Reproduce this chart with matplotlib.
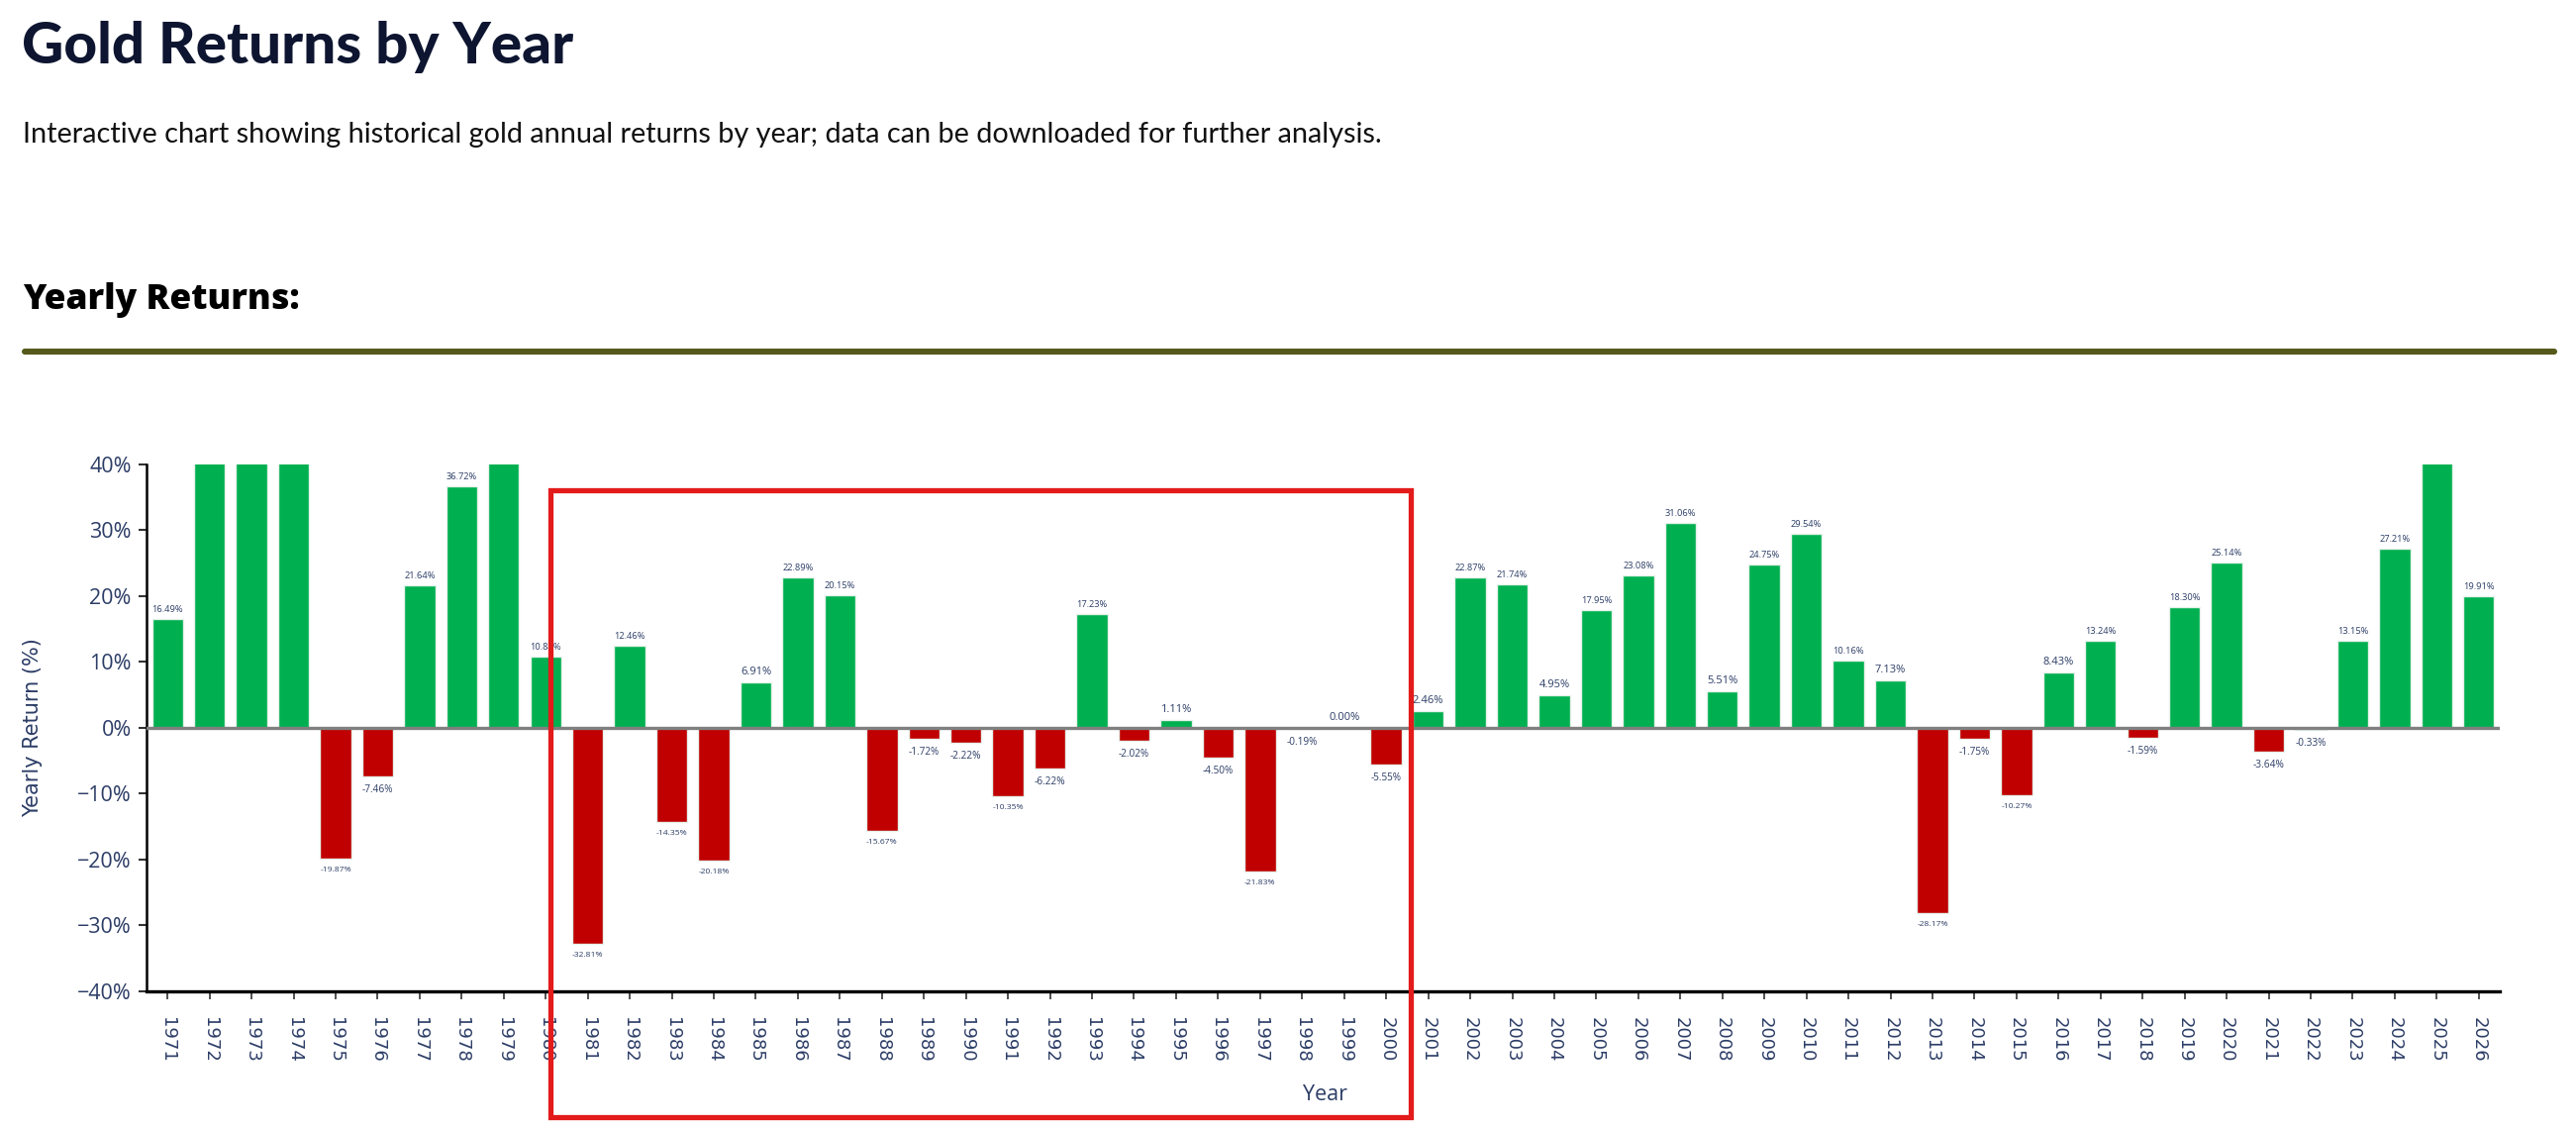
import matplotlib
matplotlib.use("Agg")
import matplotlib.pyplot as plt
from matplotlib.patches import Rectangle
from matplotlib.lines import Line2D
from matplotlib.ticker import FuncFormatter

# ---------------- data ----------------
years = list(range(1971, 2027))
returns = [
    16.49, 48.80, 72.60, 66.00, -19.87, -7.46, 21.64, 36.72, 126.50, 10.84,
    -32.81, 12.46, -14.35, -20.18, 6.91, 22.89, 20.15, -15.67, -1.72, -2.22,
    -10.35, -6.22, 17.23, -2.02, 1.11, -4.50, -21.83, -0.19, 0.00, -5.55,
    2.46, 22.87, 21.74, 4.95, 17.95, 23.08, 31.06, 5.51, 24.75, 29.54,
    10.16, 7.13, -28.17, -1.75, -10.27, 8.43, 13.24, -1.59, 18.30, 25.14,
    -3.64, -0.33, 13.15, 27.21, 64.00, 19.91,
]
y_ticks = [-40, -30, -20, -10, 0, 10, 20, 30, 40]

title = "Gold Returns by Year"
subtitle = ("Interactive chart showing historical gold annual returns by year; "
            "data can be downloaded for further analysis.")
section = "Yearly Returns:"

# ---------------- styling ----------------
W, H = 2602, 1141
DPI = 100
GREEN = "#00b050"
RED = "#c00000"
NAVY = "#2c3d66"
TXT_FONT = ["Open Sans", "DejaVu Sans"]

fig = plt.figure(figsize=(W / DPI, H / DPI), dpi=DPI)
fig.patch.set_facecolor("white")

def fy(px):
    return 1 - px / H

def fx(px):
    return px / W

# header texts
fig.text(fx(22), fy(64), title, fontsize=42, fontweight="black", color="#0d1530",
         family=["Lato", "DejaVu Sans"], va="baseline", ha="left")
fig.text(fx(23), fy(144), subtitle, fontsize=20.8, color="#111111",
         family=["Lato", "DejaVu Sans"], va="baseline", ha="left")
fig.text(fx(23), fy(312), section, fontsize=25.5, fontweight="extra bold", color="#000000",
         family=["Open Sans", "DejaVu Sans"], va="baseline", ha="left")
fig.add_artist(Line2D([fx(25), fx(2580)], [fy(355), fy(355)], transform=fig.transFigure,
                      color="#555a1b", linewidth=4.4, solid_capstyle="round"))

# axes
left, right = 148, 2525
top, bottom = 469, 1000.6
ax = fig.add_axes([fx(left), fy(bottom), fx(right - left), (bottom - top) / H])
ax.set_facecolor("white")

x = list(range(len(years)))
colors = [GREEN if v >= 0 else RED for v in returns]
ax.bar(x, returns, width=0.74, color=colors, edgecolor="#e6f2ea",
       linewidth=1.0, zorder=2)
ax.set_xlim(-0.5, len(years) - 0.5)
ax.set_ylim(-40, 40)

ax.axhline(0, color="#808080", linewidth=2.4, zorder=3)

for s in ["top", "right"]:
    ax.spines[s].set_visible(False)
ax.spines["left"].set_linewidth(1.8)
ax.spines["bottom"].set_linewidth(2.4)
ax.spines["left"].set_color("#000000")
ax.spines["bottom"].set_color("#000000")

ax.set_yticks(y_ticks)
ax.yaxis.set_major_formatter(FuncFormatter(lambda v, p: f"{int(v)}%".replace("-", "\u2212")))
ax.tick_params(axis="y", length=6, width=1.5, color="#333333", labelsize=15.5,
               labelcolor=NAVY, pad=5)
for lab in ax.get_yticklabels():
    lab.set_family(TXT_FONT)

ax.set_xticks(x)
ax.set_xticklabels([str(y) for y in years], rotation=-90, fontsize=13,
                   family=["DejaVu Sans"], color=NAVY)
ax.tick_params(axis="x", length=6, width=1.2, color="#333333", pad=13)

ax.set_ylabel("Yearly Return (%)", fontsize=15, color=NAVY,
              family=["DejaVu Sans"], labelpad=0)
ax.yaxis.set_label_coords(-(left - 43) / (right - left), 0.5)
fig.text(fx(1339), fy(1111), "Year", fontsize=15.5, color=NAVY,
         family=TXT_FONT, ha="center", va="baseline")

# value labels fitted to bar width
fig.canvas.draw()
renderer = fig.canvas.get_renderer()
bar_px = ax.transData.transform((0.74, 0))[0] - ax.transData.transform((0, 0))[0]
for xi, v in zip(x, returns):
    if v > 40 or v < -40:
        continue
    txt = f"{v:.2f}%"
    if v >= 0:
        t = ax.annotate(txt, (xi, v), xytext=(0, 5), textcoords="offset pixels",
                        ha="center", va="bottom", fontsize=10, color=NAVY,
                        family=TXT_FONT, zorder=4)
    else:
        t = ax.annotate(txt, (xi, v), xytext=(0, -8), textcoords="offset pixels",
                        ha="center", va="top", fontsize=10, color=NAVY,
                        family=TXT_FONT, zorder=4)
    w = t.get_window_extent(renderer).width
    t.set_fontsize(10 * bar_px / w)

# red highlight rectangle (figure pixels)
fig.add_artist(Rectangle((fx(556), fy(1128)), fx(1425 - 556), (1128 - 495) / H,
                         transform=fig.transFigure, fill=False, edgecolor="#e31b1b",
                         linewidth=3.8, zorder=10))

fig.savefig("out.png", dpi=DPI, facecolor="white")
